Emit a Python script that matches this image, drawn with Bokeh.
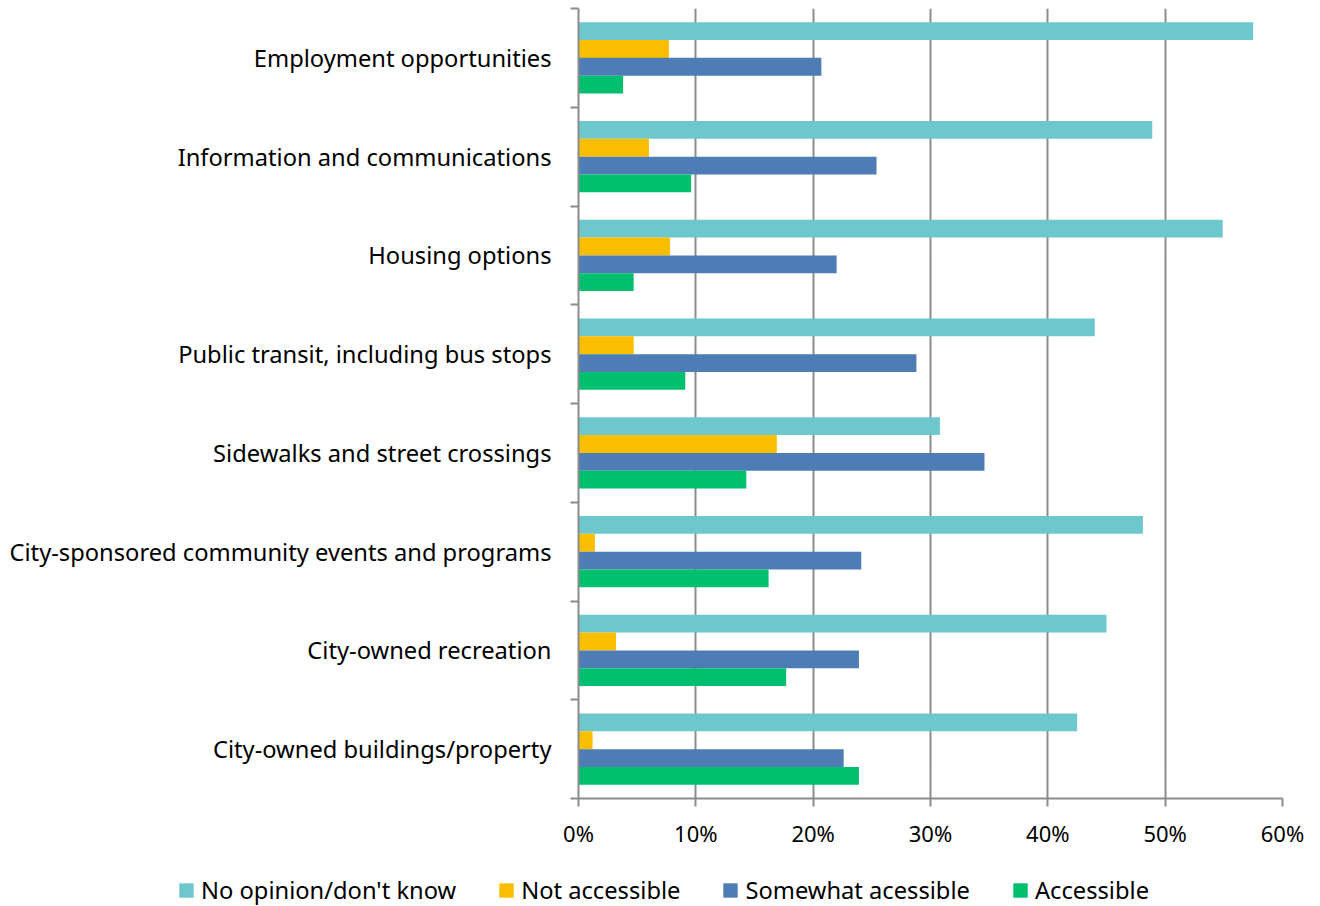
from bokeh.plotting import figure
from bokeh.layouts import column
from bokeh.models import (FixedTicker, Legend, LegendItem,
                          ColumnDataSource, Range1d)
from bokeh.embed import file_html
from bokeh.resources import INLINE

categories = [
    "Employment opportunities",
    "Information and communications",
    "Housing options",
    "Public transit, including bus stops",
    "Sidewalks and street crossings",
    "City-sponsored community events and programs",
    "City-owned recreation",
    "City-owned buildings/property",
]
series_names = ["No opinion/don't know", "Not accessible", "Somewhat acessible", "Accessible"]
no_opinion = [57.5, 48.9, 54.9, 44.0, 30.8, 48.1, 45.0, 42.5]
not_accessible = [7.7, 6.0, 7.8, 4.7, 16.9, 1.4, 3.2, 1.2]
somewhat = [20.7, 25.4, 22.0, 28.8, 34.6, 24.1, 23.9, 22.6]
accessible = [3.8, 9.6, 4.7, 9.1, 14.3, 16.2, 17.7, 23.9]
x_ticks = [0, 10, 20, 30, 40, 50, 60]
colors = ["#6CC8CC", "#F9BE00", "#4E7DB5", "#00BF6F"]

FONT = "Noto Sans"
n = len(categories)
centers = [n - i - 0.5 for i in range(n)]
offsets = [0.27, 0.09, -0.09, -0.27]
bar_h = 0.18

p = figure(width=1310, height=862, output_backend="svg", toolbar_location=None,
           x_range=Range1d(0, 60), y_range=Range1d(0, n),
           min_border_left=578, min_border_right=28, min_border_top=8,
           min_border_bottom=64)
p.frame_align = False
p.outline_line_color = None
p.background_fill_color = "white"

# grid
p.xgrid.ticker = FixedTicker(ticks=x_ticks)
p.xgrid.grid_line_color = "#8C8C8C"
p.xgrid.grid_line_width = 2
p.ygrid.grid_line_color = None

# x axis
p.xaxis.ticker = FixedTicker(ticks=x_ticks)
p.xaxis.major_label_overrides = {t: f"{t}%" for t in x_ticks}
p.xaxis.axis_line_color = "#8C8C8C"
p.xaxis.axis_line_width = 2
p.xaxis.major_tick_line_color = "#8C8C8C"
p.xaxis.major_tick_line_width = 2
p.xaxis.major_tick_out = 8
p.xaxis.major_tick_in = 0
p.xaxis.minor_tick_line_color = None
p.xaxis.major_label_text_font = FONT
p.xaxis.major_label_text_font_size = "22px"
p.xaxis.major_label_text_color = "#000000"
p.xaxis.major_label_standoff = 11

# y axis
p.yaxis.ticker = FixedTicker(ticks=centers, minor_ticks=list(range(n + 1)))
p.yaxis.major_label_overrides = {c: cat for c, cat in zip(centers, categories)}
p.yaxis.axis_line_color = "#8C8C8C"
p.yaxis.axis_line_width = 2
p.yaxis.major_tick_line_color = None
p.yaxis.minor_tick_line_color = "#8C8C8C"
p.yaxis.minor_tick_line_width = 2
p.yaxis.minor_tick_out = 8
p.yaxis.minor_tick_in = 0
p.yaxis.major_label_text_font = FONT
p.yaxis.major_label_text_font_size = "23.7px"
p.yaxis.major_label_text_color = "#000000"
p.yaxis.major_label_standoff = 19

series = [no_opinion, not_accessible, somewhat, accessible]
sources = []
for vals, off, col in zip(series, offsets, colors):
    src = ColumnDataSource(dict(y=[c + off for c in centers], right=vals))
    sources.append(src)
    p.hbar(y="y", right="right", left=0, height=bar_h, source=src,
           fill_color=col, line_color=None)

# legend strip below the chart (its own bars lie outside its visible range)
lg = figure(width=1310, height=44, output_backend="svg", toolbar_location=None,
            x_range=Range1d(-2, -1), y_range=Range1d(-2, -1),
            x_axis_location=None, y_axis_location=None,
            min_border_left=0, min_border_right=0, min_border_top=0, min_border_bottom=0)
lg.frame_align = False
lg.outline_line_color = None
lg.grid.grid_line_color = None
items = []
for name, src, col in zip(series_names, sources, colors):
    r = lg.hbar(y="y", right="right", left=0, height=bar_h, source=src,
                fill_color=col, line_color=None)
    items.append(LegendItem(label=name, renderers=[r]))
legend = Legend(items=items, orientation="horizontal", location=(177, 0),
                glyph_width=18, glyph_height=18, label_standoff=6, spacing=41,
                label_text_font=FONT, label_text_font_size="23.7px",
                label_text_color="#000000", border_line_color=None,
                background_fill_alpha=0, padding=0, margin=0)
lg.add_layout(legend, "center")

layout = column(p, lg, spacing=0)
open("out.html", "w").write(file_html(layout, INLINE))
